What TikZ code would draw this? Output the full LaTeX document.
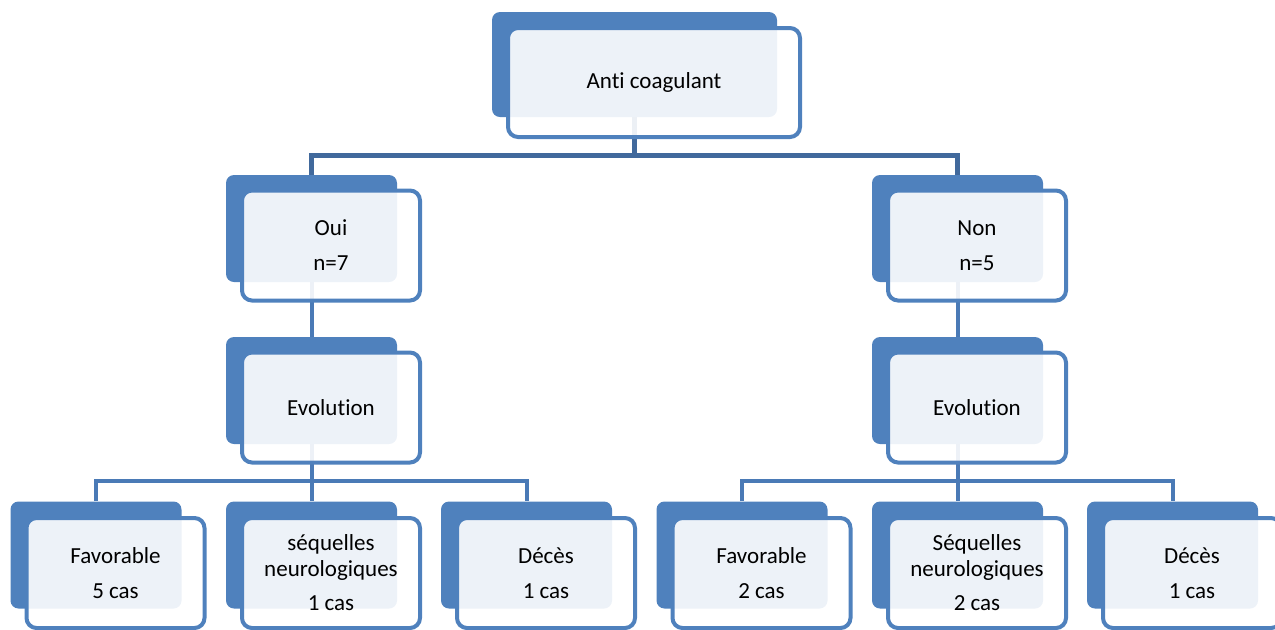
\documentclass[tikz,border=0pt]{standalone}
\usepackage{fontspec}
\setmainfont[Ligatures=NoCommon]{Carlito}
\usetikzlibrary{positioning}

\definecolor{boxblue}{HTML}{4F81BD}
\definecolor{linkblue}{HTML}{4A7AB6}
\definecolor{trunkblue}{HTML}{41699C}

\tikzset{
  backbox/.style={fill=boxblue, rounded corners=4pt, inner sep=0pt,
    minimum width=85.5pt, minimum height=53.5pt},
  frontbox/.style={draw=boxblue, line width=2pt, fill=white, fill opacity=0.9,
    text opacity=1, rounded corners=5pt, inner sep=0pt, align=center,
    minimum width=89pt, minimum height=55pt,
    font=\fontsize{11.5}{13}\selectfont},
  link/.style={linkblue, line width=2pt},
  trunk/.style={trunkblue, line width=2.5pt}
}

\begin{document}
\begin{tikzpicture}[x=0.5pt, y=-0.5pt]
    \useasboundingbox (0,0) rectangle (1275,629);

    % back boxes
    \node[backbox, minimum width=142.5pt, minimum height=52.5pt] (anti) at (634.5,64.5) {};
    \node[backbox] (oui) at (311.5,228.5) {};
    \node[backbox] (non) at (957.5,228.5) {};
    \node[backbox] (evoA) at (311.5,390.5) {};
    \node[backbox] (evoB) at (957.5,390.5) {};
    \node[backbox] (favA) at (96,555) {};
    \node[backbox] (seqA) at (311.5,555) {};
    \node[backbox] (decA) at (526.5,555) {};
    \node[backbox] (favB) at (742,555) {};
    \node[backbox] (seqB) at (957.5,555) {};
    \node[backbox] (decB) at (1172.5,555) {};

    % connectors
    \coordinate (topbar) at (634.5,155);
    \coordinate (barA) at (311.5,481);
    \coordinate (barB) at (957.5,481);

    \draw[trunk] (anti.south) -- (topbar);
    \draw[trunk] (oui.north) |- (topbar) -| (non.north);
    \draw[link] (oui.south) -- (evoA.north);
    \draw[link] (non.south) -- (evoB.north);

    \draw[link] (evoA.south) -- (seqA.north);
    \draw[link] (favA.north) |- (barA) -| (decA.north);
    \draw[link] (evoB.south) -- (seqB.north);
    \draw[link] (favB.north) |- (barB) -| (decB.north);

    % front boxes
    \node[frontbox, minimum width=146pt, minimum height=54.5pt] (anti-f)
        at ([xshift=9.75pt, yshift=-9pt]anti.center) {Anti coagulant};
    \node[frontbox] (oui-f) at ([xshift=9.75pt, yshift=-8.5pt]oui.center) {Oui\\[4.5pt]n=7};
    \node[frontbox] (non-f) at ([xshift=9.75pt, yshift=-8.5pt]non.center) {Non\\[4.5pt]n=5};
    \node[frontbox] (evoA-f) at ([xshift=9.75pt, yshift=-8.5pt]evoA.center) {Evolution};
    \node[frontbox] (evoB-f) at ([xshift=9.75pt, yshift=-8.5pt]evoB.center) {Evolution};
    \node[frontbox] (favA-f) at ([xshift=9.75pt, yshift=-9pt]favA.center) {Favorable\\[4.5pt]5 cas};
    \node[frontbox] (seqA-f) at ([xshift=9.75pt, yshift=-9pt]seqA.center) {séquelles\\neurologiques\\[4pt]1 cas};
    \node[frontbox] (decA-f) at ([xshift=9.75pt, yshift=-9pt]decA.center) {Décès\\[4.5pt]1 cas};
    \node[frontbox] (favB-f) at ([xshift=9.75pt, yshift=-9pt]favB.center) {Favorable\\[4.5pt]2 cas};
    \node[frontbox] (seqB-f) at ([xshift=9.75pt, yshift=-9pt]seqB.center) {Séquelles\\neurologiques\\[4pt]2 cas};
    \node[frontbox] (decB-f) at ([xshift=9.75pt, yshift=-9pt]decB.center) {Décès\\[4.5pt]1 cas};
\end{tikzpicture}
\end{document}
